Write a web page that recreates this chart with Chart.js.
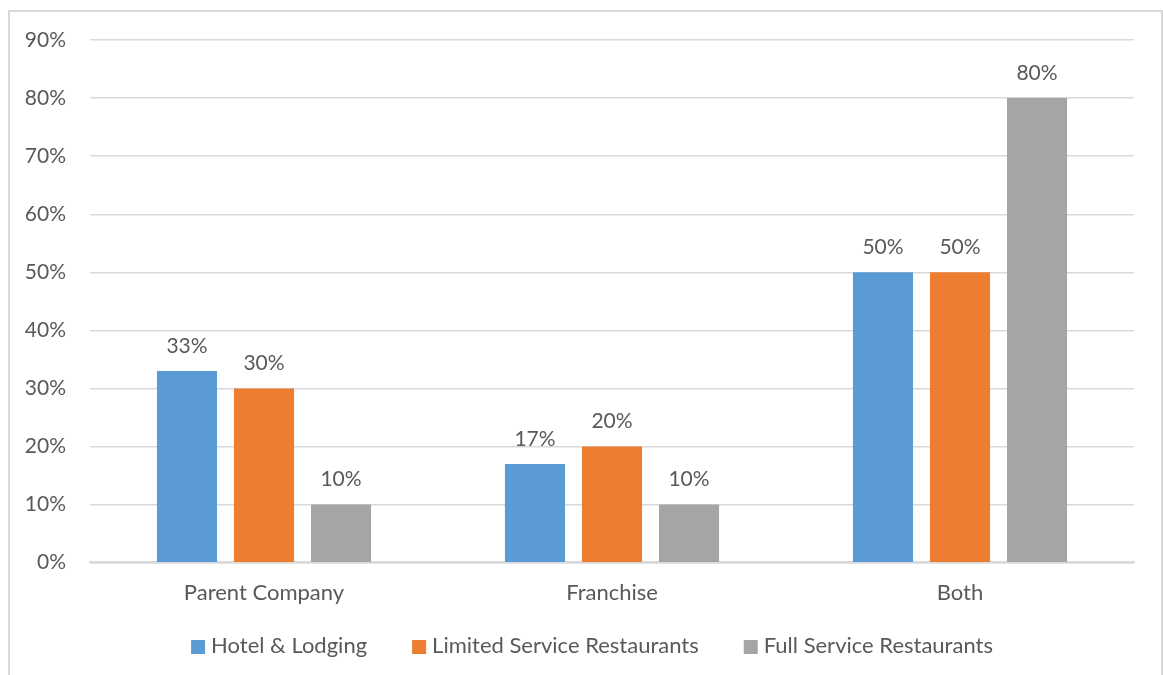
<!DOCTYPE html>
<html>
<head>
<meta charset="utf-8">
<script src="https://cdn.jsdelivr.net/npm/chart.js@4.4.1/dist/chart.umd.min.js"></script>
<style>
  html, body { margin: 0; padding: 0; background: #fff; overflow: hidden; }
  #frame {
    position: absolute; left: 8px; top: 10px; width: 1151px; height: 700px;
    border: 2px solid #d9d9d9; border-bottom: none;
  }
  #wrap { position: absolute; left: 0; top: 0; width: 1163px; height: 675px; }
</style>
</head>
<body>
<div id="frame"></div>
<div id="wrap"><canvas id="chart"></canvas></div>
<script>
// Data
const categories = ['Parent Company', 'Franchise', 'Both'];
const hotelLodging = [33, 17, 50];
const limitedService = [30, 20, 50];
const fullService = [10, 10, 80];
const yTicks = [0, 10, 20, 30, 40, 50, 60, 70, 80, 90];

const textColor = '#595959';
const fontFamily = 'Lato, "Noto Sans", sans-serif';

// Draw the value labels above each bar
const valueLabels = {
  id: 'valueLabels',
  afterDatasetsDraw(chart) {
    const ctx = chart.ctx;
    ctx.save();
    ctx.font = '21px ' + fontFamily;
    ctx.fillStyle = textColor;
    ctx.textAlign = 'center';
    ctx.textBaseline = 'middle';
    chart.data.datasets.forEach((ds, i) => {
      chart.getDatasetMeta(i).data.forEach((bar, j) => {
        ctx.fillText(ds.data[j] + '%', bar.x, bar.y - 25);
      });
    });
    ctx.restore();
  }
};

// Legend drawn under the axis, Excel style (small square, tight text gap)
const bottomLegend = {
  id: 'bottomLegend',
  afterDraw(chart) {
    const ctx = chart.ctx;
    const box = 14, textGap = 6, itemGap = 45, centerX = 592, y = 646;
    ctx.save();
    ctx.font = '22px ' + fontFamily;
    ctx.textBaseline = 'middle';
    ctx.textAlign = 'left';
    const items = chart.data.datasets.map(ds => ({
      label: ds.label, color: ds.backgroundColor, w: ctx.measureText(ds.label).width
    }));
    const total = items.reduce((s, it) => s + box + textGap + it.w, 0) + itemGap * (items.length - 1);
    let x = centerX - total / 2;
    items.forEach(it => {
      ctx.fillStyle = it.color;
      ctx.fillRect(x, y - box / 2 + 1, box, box);
      ctx.fillStyle = textColor;
      ctx.fillText(it.label, x + box + textGap, y);
      x += box + textGap + it.w + itemGap;
    });
    ctx.restore();
  }
};

new Chart(document.getElementById('chart'), {
  type: 'bar',
  data: {
    labels: categories,
    datasets: [
      { label: 'Hotel & Lodging', data: hotelLodging, backgroundColor: '#5B9BD5' },
      { label: 'Limited Service Restaurants', data: limitedService, backgroundColor: '#ED7D31' },
      { label: 'Full Service Restaurants', data: fullService, backgroundColor: '#A5A5A5' }
    ]
  },
  options: {
    responsive: true,
    maintainAspectRatio: false,
    animation: false,
    categoryPercentage: 0.664,
    barPercentage: 0.78,
    layout: { padding: { left: 0, right: 29, top: 40, bottom: 52 } },
    scales: {
      x: {
        grid: { display: false, drawTicks: false },
        border: { display: true, color: '#d9d9d9', width: 2.5 },
        ticks: { color: textColor, font: { family: fontFamily, size: 22 }, padding: 17 }
      },
      y: {
        min: 0,
        max: 90,
        afterFit(scale) { scale.width = 90; },
        afterBuildTicks(scale) { scale.ticks = yTicks.map(v => ({ value: v })); },
        grid: { color: '#d9d9d9', lineWidth: 1.4, drawTicks: false },
        border: { display: false },
        ticks: {
          color: textColor,
          font: { family: fontFamily, size: 21 },
          padding: 24,
          callback: v => v + '%'
        }
      }
    },
    plugins: {
      legend: { display: false },
      tooltip: { enabled: false }
    }
  },
  plugins: [valueLabels, bottomLegend]
});
</script>
</body>
</html>
